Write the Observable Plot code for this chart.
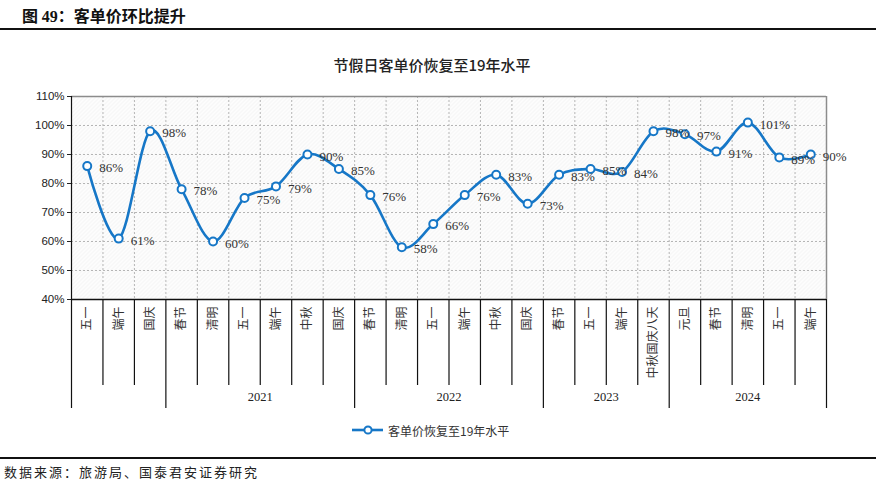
<!DOCTYPE html>
<html>
<head>
<meta charset="utf-8">
<script src="https://cdn.jsdelivr.net/npm/d3@7"></script>
<script src="https://cdn.jsdelivr.net/npm/@observablehq/plot@0.6"></script>
<style>
  html, body { margin: 0; padding: 0; background: #fff; }
  #page { position: relative; width: 876px; height: 483px; overflow: hidden; background: #fff; }
  #header { position: absolute; left: 22px; top: 5px; font-family: "Noto Sans CJK SC", sans-serif; font-weight: 700; font-size: 16px; color: #111; line-height: 20px; }
  #header .num { font-family: "Liberation Serif", serif; font-weight: 700; }
  #hline { position: absolute; left: 0; top: 28px; width: 876px; height: 2px; background: #111; }
  #title { position: absolute; left: 0; width: 864px; top: 55px; text-align: center; font-family: "Noto Sans CJK SC", sans-serif; font-size: 15px; font-weight: 500; color: #222; line-height: 20px; }
  #chart { position: absolute; left: 0; top: 80px; }
  #legend { position: absolute; left: 352px; top: 421px; height: 18px; display: flex; align-items: center; font-family: "Noto Sans CJK SC", sans-serif; font-size: 12px; color: #333; }
  #legend svg { margin-right: 4px; }
  #fline { position: absolute; left: 0; top: 457px; width: 876px; height: 2px; background: #111; }
  #footer { position: absolute; left: 4px; top: 463px; font-family: "Noto Sans CJK SC", sans-serif; font-size: 13px; letter-spacing: 2px; color: #222; line-height: 18px; }
</style>
</head>
<body>
<div id="page">
  <div id="header">图 <span class="num">49</span>：客单价环比提升</div>
  <div id="hline"></div>
  <div id="title">节假日客单价恢复至19年水平</div>
  <div id="chart"></div>
  <div id="legend"></div>
  <div id="fline"></div>
  <div id="footer">数据来源：旅游局、国泰君安证券研究</div>
</div>
<script>
// ---- data ----
const holidays = ["五一","端午","国庆","春节","清明","五一","端午","中秋","国庆","春节","清明","五一","端午","中秋","国庆","春节","五一","端午","中秋国庆八天","元旦","春节","清明","五一","端午"];
const values = [86,61,98,78,60,75,79,90,85,76,58,66,76,83,73,83,85,84,98,97,91,101,89,90];
const yearLabels = ["", "2021", "2022", "2023", "2024"];
const yearCounts = [3, 6, 6, 4, 5];
const yTicks = [40, 50, 60, 70, 80, 90, 100, 110];
const seriesName = "客单价恢复至19年水平";

const blue = "#1677c7";

// ---- derived tables ----
const data = holidays.map((h, i) => ({pos: i + 0.5, holiday: h, value: values[i]}));
const n = holidays.length;
const yearBounds = [0];
yearCounts.forEach(c => yearBounds.push(yearBounds[yearBounds.length - 1] + c));
const allBounds = d3.range(n + 1);
const shortBounds = allBounds.filter(b => !yearBounds.includes(b));
const yearMids = yearCounts.map((c, i) => yearBounds[i] + c / 2);
const centers = data.map(d => d.pos);

const chart = Plot.plot({
  width: 876,
  height: 340,
  marginLeft: 71,
  marginRight: 50,
  marginTop: 16,
  marginBottom: 121,
  style: {fontFamily: "Liberation Sans, sans-serif", fontSize: "12px", overflow: "visible", background: "transparent"},
  x: {type: "linear", domain: [0, n]},
  y: {domain: [40, 110]},
  marks: [
    Plot.frame({fill: "url(#hatch)", stroke: "none"}),
    Plot.gridY({ticks: yTicks.slice(1, -1), stroke: "#b5b5b5", strokeOpacity: 1, strokeDasharray: "2,2"}),
    Plot.gridX({ticks: allBounds.slice(1, -1), stroke: "#b5b5b5", strokeOpacity: 1, strokeDasharray: "2,2"}),
    Plot.ruleY([110], {stroke: "#8c8c8c", strokeWidth: 1.5}),
    Plot.ruleX([n], {stroke: "#8c8c8c", strokeWidth: 1.5}),
    Plot.ruleX([0], {stroke: "#111", strokeWidth: 1.2}),
    Plot.ruleY([40], {stroke: "#111", strokeWidth: 1.5}),
    Plot.axisY({ticks: yTicks, tickFormat: d => d + "%", tickSize: 4, tickPadding: 3, label: null, color: "#222", fontSize: 11.5}),
    Plot.axisX({ticks: shortBounds, tickSize: 86, tickFormat: () => "", label: null, stroke: "#111", strokeWidth: 1.2}),
    Plot.axisX({ticks: yearBounds, tickSize: 109, tickFormat: () => "", label: null, stroke: "#111", strokeWidth: 1.2}),
    Plot.axisX({ticks: centers, tickSize: 0, tickPadding: 7, tickRotate: -90, tickFormat: d => holidays[Math.floor(d)], label: null,
      fontFamily: "Noto Sans CJK SC, sans-serif", fontSize: 12, fill: "#333"}),
    Plot.axisX({ticks: yearMids, tickSize: 0, tickPadding: 93, tickFormat: d => yearLabels[yearMids.indexOf(d)], label: null,
      fontFamily: "Liberation Serif, serif", fontSize: 12.5, fill: "#222"}),
    Plot.line(data, {x: "pos", y: "value", curve: "cardinal", stroke: blue, strokeWidth: 2.6}),
    Plot.dot(data, {x: "pos", y: "value", r: 4, fill: "white", stroke: blue, strokeWidth: 2}),
    Plot.text(data, {x: "pos", y: "value", text: d => d.value + "%", textAnchor: "start", dx: 12, dy: 2,
      fontFamily: "Liberation Serif, serif", fontSize: 13, fill: "#333"})
  ]
});

// hatch pattern for plot background
const ns = "http://www.w3.org/2000/svg";
const defs = document.createElementNS(ns, "defs");
defs.innerHTML = '<pattern id="hatch" patternUnits="userSpaceOnUse" width="4" height="4">' +
  '<rect width="4" height="4" fill="#fdfdfd"/>' +
  '<path d="M-1,1 L1,-1 M0,4 L4,0 M3,5 L5,3" stroke="#ececec" stroke-width="0.8"/></pattern>';
chart.insertBefore(defs, chart.firstChild);
document.getElementById("chart").appendChild(chart);

// legend
const leg = document.getElementById("legend");
leg.innerHTML = `<svg width="32" height="12"><line x1="0" y1="6" x2="31" y2="6" stroke="${blue}" stroke-width="2.6"/>` +
  `<circle cx="16" cy="6" r="3.6" fill="white" stroke="${blue}" stroke-width="2"/></svg><span>${seriesName}</span>`;
</script>
</body>
</html>
